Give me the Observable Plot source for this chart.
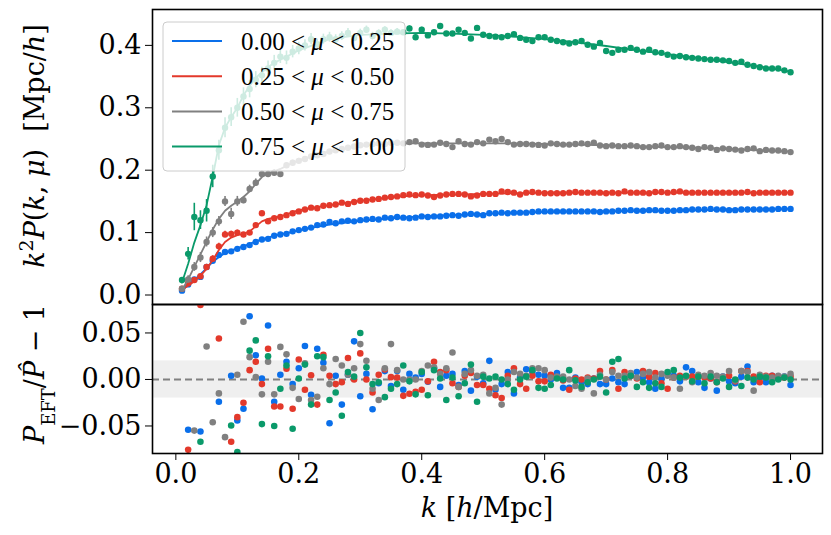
<!DOCTYPE html>
<html><head><meta charset="utf-8">
<script src="https://cdn.jsdelivr.net/npm/d3@7"></script>
<script src="https://cdn.jsdelivr.net/npm/@observablehq/plot@0.6"></script>
<style>
body{margin:0;background:#fff;}
#wrap{position:relative;width:831px;height:535px;overflow:hidden;}
#wrap svg{position:absolute;left:0;overflow:visible;}
</style></head><body><div id="wrap"></div>
<script>
// ---- data ----
const kData = [
0.01,0.02,0.03,0.04,0.05,0.06,0.07,0.08,0.09,0.10,
0.11,0.12,0.13,0.14,0.15,0.16,0.17,0.18,0.19,0.20,
0.21,0.22,0.23,0.24,0.25,0.26,0.27,0.28,0.29,0.30,
0.31,0.32,0.33,0.34,0.35,0.36,0.37,0.38,0.39,0.40,
0.41,0.42,0.43,0.44,0.45,0.46,0.47,0.48,0.49,0.50,
0.51,0.52,0.53,0.54,0.55,0.56,0.57,0.58,0.59,0.60,
0.61,0.62,0.63,0.64,0.65,0.66,0.67,0.68,0.69,0.70,
0.71,0.72,0.73,0.74,0.75,0.76,0.77,0.78,0.79,0.80,
0.81,0.82,0.83,0.84,0.85,0.86,0.87,0.88,0.89,0.90,
0.91,0.92,0.93,0.94,0.95,0.96,0.97,0.98,0.99,1.00];

const blueData = [
0.007,0.017,0.025,0.029,0.045,0.055,0.064,0.069,0.070,0.074,
0.077,0.080,0.085,0.089,0.090,0.095,0.097,0.098,0.102,0.104,
0.106,0.108,0.112,0.113,0.117,0.115,0.118,0.119,0.118,0.120,
0.121,0.122,0.121,0.124,0.123,0.125,0.124,0.123,0.124,0.126,
0.125,0.126,0.126,0.127,0.128,0.127,0.129,0.130,0.129,0.128,
0.131,0.131,0.132,0.131,0.132,0.132,0.132,0.133,0.134,0.134,
0.134,0.134,0.134,0.134,0.134,0.134,0.134,0.134,0.133,0.134,
0.134,0.135,0.135,0.136,0.135,0.135,0.136,0.136,0.135,0.135,
0.135,0.136,0.136,0.137,0.137,0.137,0.138,0.137,0.137,0.136,
0.136,0.137,0.137,0.137,0.137,0.137,0.137,0.138,0.138,0.138];
const redData = [
0.010,0.019,0.024,0.030,0.045,0.058,0.078,0.097,0.098,0.100,
0.097,0.100,0.112,0.131,0.118,0.123,0.125,0.128,0.131,0.134,
0.137,0.140,0.139,0.143,0.144,0.145,0.148,0.146,0.149,0.151,
0.151,0.153,0.154,0.156,0.157,0.158,0.160,0.161,0.160,0.161,
0.1595,0.157,0.1595,0.161,0.162,0.162,0.161,0.158,0.1595,0.162,
0.162,0.162,0.166,0.165,0.164,0.161,0.164,0.165,0.164,0.163,
0.163,0.163,0.163,0.164,0.165,0.164,0.164,0.164,0.164,0.163,
0.164,0.163,0.166,0.164,0.164,0.164,0.163,0.165,0.165,0.164,
0.165,0.166,0.164,0.164,0.164,0.164,0.164,0.164,0.164,0.164,
0.164,0.164,0.165,0.163,0.164,0.164,0.164,0.164,0.164,0.164];
const grayData = [
0.010,0.025,0.045,0.060,0.085,0.100,0.118,0.150,0.130,0.150,
0.152,0.170,0.180,0.194,0.194,0.196,0.194,0.208,0.212,0.215,
0.218,0.222,0.224,0.226,0.230,0.232,0.234,0.236,0.238,0.240,
0.241,0.242,0.243,0.242,0.244,0.244,0.243,0.245,0.2465,0.241,
0.2405,0.241,0.244,0.242,0.237,0.2465,0.242,0.241,0.245,0.243,
0.249,0.2465,0.250,0.245,0.241,0.242,0.242,0.241,0.2405,0.2395,
0.243,0.242,0.241,0.241,0.242,0.243,0.242,0.244,0.2395,0.2385,
0.2395,0.2385,0.2385,0.2395,0.2385,0.237,0.237,0.2385,0.2395,0.237,
0.237,0.2385,0.237,0.236,0.234,0.237,0.236,0.2325,0.235,0.234,
0.233,0.2315,0.234,0.235,0.2305,0.2325,0.2315,0.2315,0.2305,0.229];
const greenData = [
0.024,0.066,0.125,0.120,0.135,0.190,0.232,0.268,0.285,0.300,
0.318,0.330,0.345,0.352,0.363,0.372,0.382,0.380,0.390,0.395,
0.400,0.410,0.402,0.410,0.413,0.410,0.415,0.420,0.412,0.420,
0.425,0.415,0.420,0.425,0.420,0.422,0.421,0.427,0.413,0.425,
0.416,0.421,0.431,0.419,0.419,0.425,0.420,0.411,0.428,0.417,
0.415,0.414,0.413,0.415,0.418,0.412,0.409,0.407,0.413,0.413,
0.409,0.407,0.405,0.403,0.405,0.407,0.401,0.398,0.404,0.391,
0.388,0.393,0.393,0.396,0.393,0.390,0.393,0.389,0.388,0.385,
0.382,0.383,0.381,0.380,0.379,0.378,0.377,0.377,0.376,0.375,
0.372,0.374,0.369,0.367,0.365,0.363,0.363,0.363,0.360,0.357];

// error bars (only the leading, visible ones; the rest are hidden by the markers)
const blueErr  = [0.002,0.002,0.003,0.003,0.003,0.003,0.003,0.003];
const redErr   = [0.002,0.003,0.003,0.004,0.004,0.005,0.005,0.005,0.004,0.004,0.003,0.003];
const grayErr  = [0.003,0.006,0.007,0.008,0.008,0.008,0.008,0.008,0.009,0.008,
                  0.006,0.006,0.006,0.005,0.005,0.005,0.004,0.004,0.004,0.004];
const greenErr = [0.004,0.010,0.022,0.015,0.018,0.018,0.016,0.016,0.015,0.015,
                  0.014,0.014,0.013,0.013,0.012,0.012,0.011,0.011,0.010,0.010,
                  0.009,0.009,0.008,0.008,0.008,0.007,0.007,0.007,0.006,0.006,
                  0.006,0.006,0.005,0.005,0.005,0.005,0.004,0.004,0.004,0.004];

// EFT model curves
const kModel = [0.01,0.02,0.03,0.04,0.05,0.06,0.07,0.08,0.09,0.10,
                0.11,0.12,0.13,0.14,0.15,0.16,0.17,0.18,0.19,0.20,
                0.25,0.30,0.35,0.40,0.45,0.50,0.55,0.60,0.65,0.70,0.75,0.80,0.85,0.90,0.95,1.00];
const blueModel  = [0.007,0.016,0.024,0.033,0.043,0.053,0.061,0.067,0.071,0.075,
                    0.078,0.082,0.086,0.089,0.092,0.095,0.097,0.099,0.101,0.104,
                    0.113,0.119,0.123,0.126,0.128,0.130,0.132,0.133,0.134,0.134,0.135,0.135,0.136,0.137,0.137,0.138];
const redModel   = [0.009,0.015,0.022,0.031,0.042,0.056,0.072,0.085,0.092,0.096,
                    0.098,0.102,0.110,0.118,0.122,0.124,0.126,0.129,0.133,0.136,
                    0.144,0.151,0.157,0.160,0.161,0.162,0.163,0.164,0.164,0.164,0.164,0.164,0.164,0.164,0.164,0.164];
const grayModel  = [0.008,0.025,0.045,0.065,0.085,0.105,0.122,0.135,0.143,0.150,
                    0.157,0.166,0.178,0.189,0.195,0.198,0.202,0.207,0.212,0.216,
                    0.230,0.239,0.243,0.243,0.243,0.243,0.243,0.242,0.241,0.240,0.238,0.237,0.236,0.234,0.232,0.230];
const greenModel = [0.020,0.050,0.084,0.112,0.144,0.190,0.240,0.268,0.285,0.300,
                    0.320,0.335,0.348,0.357,0.365,0.372,0.377,0.382,0.387,0.392,
                    0.410,0.417,0.419,0.420,0.419,0.417,0.414,0.410,0.405,0.399,0.392,0.386,0.380,0.373,0.366,0.358];

// residuals P_EFT / P_hat - 1
const blueRes = [
-0.12,-0.054,0.12,-0.056,0.12,0.12,-0.024,-0.12,0.004,-0.044,
-0.0315,0.068,0.026,0.001,0.058,-0.024,0.005,0.019,-0.005,0.012,
0.036,-0.0165,0.033,0.018,-0.047,0.004,-0.027,0.005,0.041,-0.018,
0.006,-0.032,-0.004,0.009,-0.007,0.009,-0.011,0.006,0.002,0.006,
-0.0025,0.012,-0.008,0.004,0.006,-0.006,0.009,-0.012,0.003,-0.004,
0.020,-0.011,-0.005,0.008,-0.015,0.002,0.011,0.008,0.005,0.004,
0.000,0.007,-0.009,-0.009,0.002,-0.003,-0.005,0.001,-0.005,-0.005,
0.001,-0.003,-0.005,0.004,0.008,0.002,-0.003,-0.010,0.001,0.006,
0.004,-0.002,0.013,0.009,-0.003,-0.009,0.001,-0.012,0.003,-0.002,
-0.004,0.003,0.014,-0.003,0.002,-0.003,0.004,0.001,0.003,-0.006];
const redRes = [
-0.12,-0.0756,0.12,0.08,-0.12,0.12,0.044,0.12,-0.067,-0.0405,
-0.025,0.010,0.019,-0.005,0.033,-0.029,-0.029,0.0115,-0.0315,0.0215,
-0.011,0.0046,-0.027,0.0265,0.004,-0.005,-0.003,0.023,0.000,0.028,
0.000,-0.014,0.005,0.0107,0.0025,0.002,-0.0176,-0.0154,-0.0133,-0.011,
-0.002,0.019,0.008,0.010,-0.004,-0.008,0.004,0.007,-0.006,-0.006,
-0.010,-0.017,-0.020,0.004,0.012,-0.005,-0.010,0.004,-0.002,-0.002,
0.005,0.002,-0.001,-0.011,0.001,0.000,0.002,0.001,0.009,0.000,
0.010,-0.010,0.008,0.004,0.001,0.009,0.003,0.007,-0.004,-0.010,
0.002,0.004,0.003,0.003,0.003,0.002,0.001,-0.003,0.002,0.004,
-0.002,0.009,0.009,0.003,-0.003,0.004,0.004,0.002,0.002,0.003];
const grayRes = [
0.12,-0.12,-0.055,-0.12,0.0355,-0.046,-0.015,-0.062,0.10,0.005,
0.062,0.024,0.0025,-0.016,0.019,-0.016,0.035,0.027,-0.009,-0.021,
0.0175,-0.022,-0.0186,0.012,-0.005,0.022,0.015,0.005,0.012,0.038,
0.020,-0.010,-0.022,0.012,0.038,0.010,0.000,0.000,0.000,0.009,
0.015,0.013,0.006,0.012,0.029,-0.008,0.006,0.010,0.004,0.005,
-0.015,-0.009,-0.027,0.000,0.008,0.006,0.004,0.012,0.012,0.010,
0.002,0.003,0.003,0.000,-0.007,-0.010,0.001,-0.015,0.005,0.000,
0.008,0.004,0.004,0.007,0.002,0.006,0.008,0.002,0.006,0.004,
0.002,-0.010,0.003,-0.003,0.005,0.004,0.007,0.004,0.003,0.009,
-0.001,0.009,0.008,-0.012,0.005,0.003,0.002,0.004,0.003,0.006];
const greenRes = [
-0.15,-0.12,-0.15,-0.067,-0.12,-0.10,0.12,0.10,-0.0495,-0.078,
0.12,0.031,0.042,-0.048,0.025,-0.050,-0.010,0.015,-0.053,0.001,
0.016,-0.027,0.025,0.024,-0.022,-0.014,-0.039,0.008,0.003,0.050,
0.013,-0.005,-0.003,-0.019,-0.010,-0.005,0.015,-0.002,-0.016,0.008,
-0.017,0.010,0.001,-0.022,0.002,-0.018,-0.004,0.016,-0.024,0.003,
0.001,0.003,0.000,-0.005,-0.011,0.000,0.003,0.010,-0.009,-0.010,
-0.006,0.001,0.000,0.010,-0.001,-0.008,-0.003,0.000,0.003,-0.014,
0.019,0.022,0.001,0.004,-0.008,-0.003,-0.009,-0.004,-0.008,0.008,
0.010,0.002,0.004,-0.002,0.003,-0.004,0.003,-0.003,0.001,-0.008,
0.000,-0.007,0.002,0.000,0.003,0.002,-0.003,0.000,0.002,0.000];

const labels = ["0.00", "0.25", "0.50", "0.75", "1.00"];
const colors = ["#0a6fea", "#e3392b", "#808080", "#0a9a6a"];
const xTicks = [0, 0.2, 0.4, 0.6, 0.8, 1.0];
const yTicksTop = [0, 0.1, 0.2, 0.3, 0.4];
const yTicksBottom = [-0.05, 0, 0.05];
const band = [-0.02, 0.02];

// ---- build ----
const xDomain = [-0.038, 1.052];
const yTopDomain = [-0.0152, 0.4575];
const yBotDomain = [-0.0796, 0.0806];

const raw = [
  {data: blueData,  err: blueErr,  model: blueModel,  res: blueRes},
  {data: redData,   err: redErr,   model: redModel,   res: redRes},
  {data: grayData,  err: grayErr,  model: grayModel,  res: grayRes},
  {data: greenData, err: greenErr, model: greenModel, res: greenRes}
];
const series = raw.map((s, si) => ({
  color: colors[si],
  label: [labels[si], labels[si + 1]],
  pts: kData.map((k, i) => ({k, v: s.data[i], e: s.err[i] ?? 0, r: s.res[i]})),
  mod: kModel.map((k, i) => ({k, v: s.model[i]}))
}));

const font = "DejaVu Serif";
const baseStyle = {fontFamily: font, fontSize: "27px", color: "black", background: "transparent", overflow: "visible"};

const topPlot = Plot.plot({
  width: 831, height: 304,
  marginLeft: 152, marginRight: 9, marginTop: 9, marginBottom: 0,
  style: baseStyle,
  x: {domain: xDomain, axis: null},
  y: {domain: yTopDomain, ticks: yTicksTop, tickSize: 7, tickPadding: 4, tickFormat: d3.format(".1f"), label: null},
  marks: [
    ...series.flatMap(s => [
      Plot.ruleX(s.pts.filter(d => d.e > 0), {x: "k", y1: d => d.v - d.e, y2: d => d.v + d.e, stroke: s.color, strokeWidth: 1.6}),
      Plot.dot(s.pts, {x: "k", y: "v", r: 3.2, fill: s.color}),
      Plot.line(s.mod, {x: "k", y: "v", stroke: s.color, strokeWidth: 1.8})
    ]),
    Plot.frame({stroke: "black", strokeWidth: 1.6})
  ]
});

const botPlot = Plot.plot({
  width: 831, height: 231,
  marginLeft: 152, marginRight: 9, marginTop: 0, marginBottom: 82,
  style: baseStyle,
  x: {domain: xDomain, ticks: xTicks, tickSize: 7, tickPadding: 3, tickFormat: d3.format(".1f"), label: null},
  y: {domain: yBotDomain, ticks: yTicksBottom, tickSize: 7, tickPadding: 4, tickFormat: d3.format(".2f"), label: null},
  marks: [
    Plot.rect([band], {x1: () => xDomain[0], x2: () => xDomain[1], y1: d => d[0], y2: d => d[1], fill: "#efefef"}),
    Plot.ruleY([0], {stroke: "#808080", strokeWidth: 2, strokeDasharray: "7,4"}),
    ...series.map(s => Plot.dot(s.pts, {x: "k", y: "r", r: 3.3, fill: s.color, clip: true})),
    Plot.frame({stroke: "black", strokeWidth: 1.6})
  ]
});

const wrap = document.getElementById("wrap");
topPlot.style.top = "0px";
botPlot.style.top = "304px";
wrap.appendChild(topPlot);
wrap.appendChild(botPlot);

function addText(sel, parts) {
  parts.forEach(p => {
    const t = sel.append("tspan").text(p.t);
    if (p.i) t.attr("font-style", "italic");
    if (p.s) t.attr("font-size", p.s);
    if (p.b) t.attr("baseline-shift", p.b);
  });
}

// y label, top panel
const tsvg = d3.select(topPlot);
const yl = tsvg.append("text")
  .attr("transform", "translate(44,146) rotate(-90)")
  .attr("text-anchor", "middle").attr("font-size", 27).attr("fill", "black");
addText(yl, [
  {t: "k", i: 1}, {t: "2", s: 19, b: "super"}, {t: "P", i: 1}, {t: "("}, {t: "k", i: 1}, {t: ", "},
  {t: "μ", i: 1}, {t: ")  [Mpc/"}, {t: "h", i: 1}, {t: "]"}
]);

// legend
const lg = tsvg.append("g").attr("text-anchor", "start");
lg.append("rect").attr("x", 163).attr("y", 22).attr("width", 242).attr("height", 149)
  .attr("rx", 4).attr("fill", "white").attr("fill-opacity", 0.8)
  .attr("stroke", "#cccccc").attr("stroke-width", 1);
series.forEach((s, i) => {
  const y = 41 + i * 35.2;
  lg.append("line").attr("x1", 172).attr("x2", 222).attr("y1", y).attr("y2", y)
    .attr("stroke", s.color).attr("stroke-width", 2);
  const t = lg.append("text").attr("x", 241).attr("y", y + 8.5)
    .attr("text-anchor", "start")
    .attr("font-family", "Liberation Serif").attr("font-size", 25).attr("fill", "black")
    .attr("xml:space", "preserve");
  addText(t, [{t: s.label[0] + " < "}, {t: "μ", i: 1}, {t: " < " + s.label[1]}]);
});

// bottom panel labels
const bsvg = d3.select(botPlot);
const yl2 = bsvg.append("text")
  .attr("transform", "translate(44,70) rotate(-90)")
  .attr("text-anchor", "middle").attr("font-size", 27).attr("fill", "black");
addText(yl2, [
  {t: "P", i: 1}, {t: "EFT", s: 18, b: "sub"}, {t: "/"}, {t: "P\u0302", i: 1}, {t: " − 1"}
]);
const xl = bsvg.append("text")
  .attr("x", 487).attr("y", 213)
  .attr("text-anchor", "middle").attr("font-size", 27).attr("fill", "black");
addText(xl, [{t: "k", i: 1}, {t: " ["}, {t: "h", i: 1}, {t: "/Mpc]"}]);
</script>
</body></html>
